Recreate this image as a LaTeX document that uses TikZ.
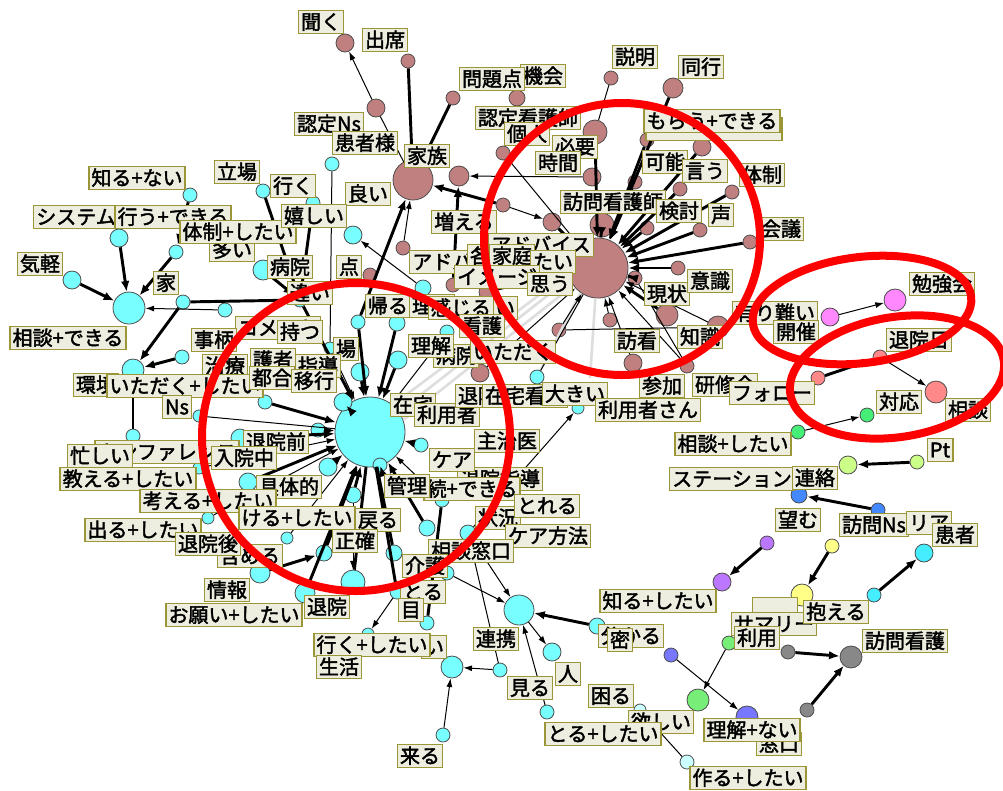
\documentclass[tikz,border=0pt]{standalone}
\usepackage{fontspec}
\newfontfamily\jp{Noto Sans CJK JP}[FakeBold=2]
\usetikzlibrary{arrows.meta}
\definecolor{cy}{RGB}{119,255,255}
\definecolor{br}{RGB}{192,128,128}
\definecolor{vi}{RGB}{255,136,255}
\definecolor{sa}{RGB}{255,136,136}
\definecolor{gn}{RGB}{68,238,119}
\definecolor{lg}{RGB}{204,255,136}
\definecolor{bl}{RGB}{68,136,255}
\definecolor{pu}{RGB}{187,119,255}
\definecolor{ye}{RGB}{255,255,136}
\definecolor{ctwo}{RGB}{68,238,255}
\definecolor{gr}{RGB}{136,136,136}
\definecolor{gg}{RGB}{119,238,119}
\definecolor{bv}{RGB}{119,119,255}
\definecolor{pc}{RGB}{204,255,255}
\definecolor{lbf}{RGB}{238,238,224}
\definecolor{lbd}{RGB}{155,150,55}
\definecolor{rd}{RGB}{255,0,0}
\newcommand\cnd[4]{\node[nd,fill=#4,minimum size=#3*1.5pt] (#1) at #2 {};}
\newcommand\lbl[4]{\node[lab] (#1) at (#2,#3) {#4};}
\begin{document}
\begin{tikzpicture}[x=0.75pt,y=-0.75pt,
 lab/.style={draw=lbd,fill=lbf,line width=1.1pt,inner xsep=2pt,inner ysep=1.1pt,font=\jp\fontsize{15pt}{16pt}\selectfont,text height=12.8pt,text depth=1.9pt},
 nd/.style={circle,draw=black!70,line width=0.6pt,inner sep=0pt},
 et/.style={line width=2.2pt,-{Latex[length=8pt,width=6.5pt]}},
 ea/.style={line width=0.75pt,-{Latex[length=6.5pt,width=4.5pt]}},
 lt/.style={line width=2.2pt},
 ln/.style={line width=0.75pt},
 gl/.style={line width=2pt,draw=black!13},
 red/.style={draw=rd,line width=6pt}]
\useasboundingbox (0,0) rectangle (1003,790);
% ---------- cyan nodes
\cnd{hub}{(370,432)}{35}{cy}
\cnd{sd}{(129,308)}{16}{cy}
\cnd{rk}{(519,610)}{15}{cy}
\cnd{kr}{(452,667)}{11}{cy}
\cnd{n1}{(119,238)}{9}{cy}
\cnd{n2}{(176,252)}{7}{cy}
\cnd{n3}{(190,195)}{7}{cy}
\cnd{n4}{(263,191)}{7}{cy}
\cnd{n5}{(313,203)}{7}{cy}
\cnd{n6}{(332,164)}{7}{cy}
\cnd{n7}{(353,235)}{9}{cy}
\cnd{n8}{(72,280)}{9}{cy}
\cnd{n9}{(183,302)}{7}{cy}
\cnd{n10}{(225,310)}{7}{cy}
\cnd{n11}{(263,270)}{10}{cy}
\cnd{n12}{(133,370)}{11}{cy}
\cnd{n13}{(182,357)}{7}{cy}
\cnd{n14}{(133,436)}{7}{cy}
\cnd{n15}{(199,416)}{6}{cy}
\cnd{n16}{(358,322)}{7}{cy}
\cnd{n17}{(397,323)}{8}{cy}
\cnd{n18}{(423,288)}{8}{cy}
\cnd{n19}{(447,332)}{7}{cy}
\cnd{n20}{(330,348)}{6}{cy}
\cnd{n21}{(360,372)}{9}{cy}
\cnd{n22}{(398,360)}{9}{cy}
\cnd{n23}{(343,402)}{9}{cy}
\cnd{n24}{(265,402)}{7}{cy}
\cnd{n25}{(318,430)}{7}{cy}
\cnd{n26}{(421,445)}{7}{cy}
\cnd{n27}{(328,467)}{9}{cy}
\cnd{n28}{(380,465)}{7}{cy}
\cnd{n29}{(353,495)}{8}{cy}
\cnd{n30}{(442,500)}{7}{cy}
\cnd{n31}{(427,528)}{8}{cy}
\cnd{n32}{(468,533)}{8}{cy}
\cnd{n33}{(324,553)}{8}{cy}
\cnd{n34}{(394,553)}{8}{cy}
\cnd{n35}{(353,582)}{12}{cy}
\cnd{n36}{(305,593)}{10}{cy}
\cnd{n37}{(260,573)}{10}{cy}
\cnd{n38}{(397,592)}{7}{cy}
\cnd{n39}{(447,573)}{7}{cy}
\cnd{n40}{(427,623)}{7}{cy}
\cnd{n41}{(287,538)}{6}{cy}
\cnd{n42}{(500,670)}{7}{cy}
\cnd{n43}{(443,735)}{7}{cy}
\cnd{n44}{(597,626)}{8}{cy}
\cnd{n45}{(552,652)}{9}{cy}
\cnd{n46}{(547,712)}{7}{cy}
\cnd{n47}{(537,377)}{7}{cy}
\cnd{n48}{(640,710)}{6}{pc}
\cnd{n49}{(687,762)}{7}{pc}
\cnd{n50}{(240,438)}{9}{cy}
\cnd{n51}{(248,482)}{9}{cy}
\cnd{n52}{(199,468)}{6}{cy}
\cnd{n53}{(208,518)}{6}{cy}
\cnd{n54}{(300,300)}{7}{cy}
\cnd{n56}{(368,634)}{6}{cy}
\cnd{n57}{(578,408)}{6}{cy}
% ---------- brown nodes
\cnd{bhub}{(598,268)}{30}{br}
\cnd{fam}{(413,180)}{20}{br}
\cnd{b1}{(345,43)}{9}{br}
\cnd{b2}{(408,61)}{7}{br}
\cnd{b3}{(376,108)}{9}{br}
\cnd{b4}{(453,98)}{7}{br}
\cnd{b5}{(517,98)}{8}{br}
\cnd{b6}{(503,153)}{7}{br}
\cnd{b7}{(459,176)}{10}{br}
\cnd{b8}{(403,248)}{7}{br}
\cnd{b9}{(611,78)}{7}{br}
\cnd{b10}{(673,88)}{10}{br}
\cnd{b11}{(595,132)}{12}{br}
\cnd{b12}{(647,140)}{7}{br}
\cnd{b13}{(702,147)}{9}{br}
\cnd{b14}{(592,177)}{9}{br}
\cnd{b15}{(635,182)}{7}{br}
\cnd{b16}{(680,189)}{7}{br}
\cnd{b17}{(732,192)}{7}{br}
\cnd{b18}{(602,225)}{12}{br}
\cnd{b19}{(647,228)}{7}{br}
\cnd{b20}{(700,230)}{7}{br}
\cnd{b21}{(750,242)}{7}{br}
\cnd{b22}{(552,222)}{9}{br}
\cnd{b23}{(503,205)}{7}{br}
\cnd{b24}{(678,268)}{7}{br}
\cnd{b25}{(635,278)}{7}{br}
\cnd{b26}{(667,315)}{11}{br}
\cnd{b27}{(718,327)}{11}{br}
\cnd{b28}{(610,320)}{7}{br}
\cnd{b29}{(559,330)}{7}{br}
\cnd{b30}{(633,363)}{9}{br}
\cnd{b31}{(687,366)}{7}{br}
\cnd{b32}{(480,373)}{9}{br}
\cnd{b33}{(370,275)}{7}{br}
\cnd{b34}{(488,292)}{9}{br}
\cnd{b36}{(453,285)}{7}{br}
% ---------- other clusters
\cnd{v1}{(830,317)}{9}{vi}
\cnd{v2}{(895,300)}{11}{vi}
\cnd{s1}{(818,378)}{7}{sa}
\cnd{s2}{(880,357)}{7}{sa}
\cnd{s3}{(936,392)}{11}{sa}
\cnd{g1}{(798,432)}{7}{gn}
\cnd{g2}{(867,415)}{7}{gn}
\cnd{lg1}{(848,465)}{9}{lg}
\cnd{lg2}{(917,462)}{7}{lg}
\cnd{bl1}{(799,495)}{8}{bl}
\cnd{bl2}{(878,510)}{7}{bl}
\cnd{p1}{(767,543)}{7}{pu}
\cnd{p2}{(722,582)}{9}{pu}
\cnd{y1}{(832,546)}{7}{ye}
\cnd{y2}{(802,595)}{11}{ye}
\cnd{c2a}{(874,595)}{7}{ctwo}
\cnd{c2b}{(924,553)}{9}{ctwo}
\cnd{gr1}{(788,652)}{7}{gr}
\cnd{gr2}{(851,657)}{11}{gr}
\cnd{gr3}{(807,710)}{7}{gr}
\cnd{gg1}{(729,643)}{7}{gg}
\cnd{gg2}{(698,700)}{11}{gg}
\cnd{bv1}{(671,655)}{7}{bv}
\cnd{bv2}{(747,717)}{11}{bv}
\coordinate (cgA) at (590,378);
% ---------- grey links
\draw[gl] (bhub.200) -- (hub.35);
\draw[gl] (bhub.215) -- (hub.20);
\draw[gl] (bhub.190) -- (hub.50);
\draw[gl] (bhub.235) -- (n47);
\draw[gl] (bhub.265) -- (cgA);
% ---------- brown edges
\draw[et] (b2) -- (fam);
\draw[lt] (b4) -- (fam);
\draw[ea] (b3) -- (b1);
\draw[ln] (b3) -- (fam);
\draw[ea] (b14) -- (b7);
\draw[et] (b23) -- (fam);
\draw[et] (b36) -- (b7);
\draw[ea] (b8) -- (fam);
\draw[et] (n16) -- (fam);
\draw[ea] (n18) -- (n7);
\draw[ln] (n6) -- (n20);
\draw[ln] (b9) -- (b11);
\draw[ln] (b5) -- (b6);
\draw[et] (b10) -- (bhub);
\foreach \b in {b11,b12,b13,b15,b16,b17,b18,b19,b20,b21,b22,b24,b25,b26}{\draw[et] (\b) -- (bhub);}
\foreach \b in {b27,b28,b29,b30,b31,b32,b34}{\draw[ea] (\b) -- (bhub);}
\draw[ea] (b23) -- (b22);
\draw[ln] (b6) -- (bhub);
\draw[ln] (b29) -- (b27);
\draw[ln] (b25) -- (b31);
\draw[ln] (n47) -- (bhub);
% ---------- cyan edges
\draw[et] (n1) -- (sd);
\draw[et] (n2) -- (sd);
\draw[et] (n3) -- (n2);
\draw[et] (n8) -- (sd);
\draw[ea] (n10) -- (sd);
\draw[et] (n9) -- (n12);
\draw[et] (n13) -- (n12);
\draw[lt] (n12) -- (n14);
\draw[lt] (n9) -- (n54);
\draw[et] (n4) -- (n54);
\draw[et] (n5) -- (n54);
\draw[et] (n11) -- (n54);
\draw[et] (n54) -- (hub);
\draw[ln] (n15) -- (hub);
\foreach \c in {n16,n17,n21,n22,n23,n24,n25,n26,n27,n28,n29,n31,n50,n51}{\draw[et] (\c) -- (hub);}
\foreach \c in {n19,n20,n52,n53,n41,n30}{\draw[ea] (\c) -- (hub);}
\draw[et] (n37) -- (n33);
\draw[et] (n33) -- (hub);
\draw[et] (n36) -- (hub);
\draw[lt] (hub) -- (n35);
\draw[ea] (n29) -- (n35);
\draw[lt] (hub) -- (n38);
\draw[lt] (n34) -- (hub);
\draw[ea] (n38) -- (n56);
\draw[lt] (n30) -- (n40);
\draw[ea] (n39) -- (rk);
\draw[ea] (n32) -- (rk);
\draw[ln] (n32) -- (n42);
\draw[ea] (n42) -- (kr);
\draw[ea] (n43) -- (kr);
\draw[et] (n44) -- (rk);
\draw[ea] (rk) -- (n45);
\draw[ea] (n46) -- (rk);
\draw[ln] (n48) -- (n49);
\draw[ea] (n32) -- (n57);
% ---------- small clusters
\draw[ea] (v1) -- (v2);
\draw[et] (s1) -- (s2);
\draw[ea] (s2) -- (s3);
\draw[ea] (g1) -- (g2);
\draw[et] (lg2) -- (lg1);
\draw[et] (bl2) -- (bl1);
\draw[et] (p1) -- (p2);
\draw[et] (y1) -- (y2);
\draw[et] (c2a) -- (c2b);
\draw[et] (gr1) -- (gr2);
\draw[et] (gr3) -- (gr2);
\draw[ea] (gg1) -- (gg2);
\draw[ea] (bv1) -- (bv2);
% ---------- labels
\lbl{l1}{321}{22}{聞く}
\lbl{l2}{385}{40}{出席}
\lbl{l4}{543}{76}{機会}
\lbl{l3}{492}{79}{問題点}
\lbl{l5}{329}{124}{認定Ns}
\lbl{l6}{365}{143}{患者様}
\lbl{l7}{427}{156}{家族}
\lbl{l8}{528}{118}{認定看護師}
\lbl{l9}{527}{134}{個人}
\lbl{l10}{575}{147}{必要}
\lbl{l11}{558}{163}{時間}
\lbl{l12}{635}{57}{説明}
\lbl{l13}{701}{67}{同行}
\node[lab] (l14) at (714,129) {\phantom{もらう+できる}};
\lbl{l15}{712}{121}{もらう+できる}
\lbl{l16}{665}{162}{可能}
\lbl{l17}{705}{171}{言う}
\lbl{l18}{762}{175}{体制}
\lbl{l19}{613}{202}{訪問看護師}
\lbl{l20}{679}{211}{検討}
\lbl{l21}{721}{215}{声}
\lbl{l22}{781}{229}{会議}
\lbl{l23}{368}{194}{良い}
\lbl{l24}{293}{186}{行く}
\lbl{l25}{237}{172}{立場}
\lbl{l26}{137}{178}{知る+ない}
\lbl{l27}{76}{217}{システム}
\lbl{l28}{173}{217}{行う+できる}
\lbl{l29}{232}{250}{多い}
\lbl{l30}{238}{232}{体制+したい}
\lbl{l31}{314}{216}{嬉しい}
\lbl{l32}{464}{222}{増える}
\lbl{l33}{40}{264}{気軽}
\lbl{l34}{166}{283}{家}
\lbl{lsd}{68}{338}{相談+できる}
\lbl{l35}{290}{267}{病院}
\lbl{l36}{349}{267}{点}
\lbl{l37}{462}{262}{アドバイス}
\lbl{l38}{480}{256}{各}
\lbl{l40}{541}{245}{アドバイス}
\lbl{l39}{512}{256}{家庭}
\lbl{l41}{553}{262}{たい}
\lbl{l42}{497}{277}{イメージ}
\lbl{l43}{550}{284}{思う}
\lbl{l44}{388}{306}{帰る}
\lbl{l46}{505}{308}{い}
\lbl{l45}{432}{306}{理由}
\lbl{l47}{461}{308}{感じる}
\lbl{l48}{482}{326}{看護}
\lbl{l51}{278}{328}{コメント}
\lbl{l52}{214}{340}{事柄}
\lbl{l53}{225}{366}{治療}
\lbl{l49}{300}{332}{持つ}
\lbl{l50}{310}{293}{違い}
\lbl{l54}{273}{360}{護者}
\lbl{l55}{346}{349}{場}
\lbl{l57}{456}{356}{病院}
\lbl{l56}{431}{346}{理解}
\lbl{l58}{513}{352}{いただく}
\lbl{l59}{96}{385}{環境}
\lbl{l60}{185}{386}{いただく+したい}
\lbl{l61}{177}{407}{Ns}
\lbl{l63}{272}{378}{都合}
\lbl{l62}{318}{366}{指導}
\lbl{l64}{314}{381}{移行}
\lbl{l65}{413}{405}{在宅}
\lbl{l66}{447}{415}{利用者}
\lbl{l67}{478}{396}{退院}
\lbl{l68}{525}{396}{在宅看護}
\lbl{l69}{575}{394}{大きい}
\lbl{l70}{648}{410}{利用者さん}
\lbl{l71}{662}{386}{参加}
\lbl{l72}{725}{385}{研修会}
\lbl{l73}{772}{393}{フォロー}
\lbl{l74}{637}{341}{訪看}
\lbl{l75}{700}{337}{知識}
\lbl{l76}{667}{294}{現状}
\lbl{l77}{710}{281}{意識}
\lbl{l78}{775}{313}{有り難い}
\lbl{l79}{796}{332}{開催}
\lbl{l80}{942}{284}{勉強会}
\lbl{l81}{919}{340}{退院日}
\lbl{l82}{899}{402}{対応}
\lbl{l83}{968}{410}{相談}
\lbl{l84}{733}{444}{相談+したい}
\lbl{l85}{940}{450}{Pt}
\lbl{l86}{732}{479}{ステーション}
\lbl{l87}{815}{478}{連絡}
\lbl{l88}{507}{441}{主治医}
\lbl{l90}{500}{479}{退院指導}
\lbl{l89}{452}{460}{ケア}
\lbl{l92}{472}{489}{続+できる}
\lbl{l91}{407}{486}{管理}
\lbl{l93}{289}{487}{具体的}
\lbl{l95}{167}{452}{カンファレンス}
\lbl{l94}{276}{442}{退院前}
\lbl{l96}{244}{458}{入院中}
\lbl{l97}{100}{456}{忙しい}
\lbl{l98}{128}{479}{教える+したい}
\lbl{l99}{208}{501}{考える+したい}
\lbl{l100}{297}{518}{ける+したい}
\lbl{l101}{378}{520}{戻る}
\lbl{l103}{498}{518}{状況}
\lbl{l102}{547}{506}{とれる}
\lbl{l104}{548}{536}{ケア方法}
\lbl{l105}{143}{530}{出る+したい}
\lbl{l107}{250}{556}{含める}
\lbl{l106}{208}{544}{退院後}
\lbl{l108}{355}{541}{正確}
\lbl{l109}{471}{551}{相談窓口}
\lbl{l110}{425}{566}{介護}
\lbl{l111}{423}{592}{とる}
\lbl{l112}{411}{610}{目}
\lbl{l113}{327}{607}{退院}
\lbl{l114}{227}{590}{情報}
\lbl{l115}{234}{615}{お願い+したい}
\lbl{l116}{434}{647}{い}
\lbl{l117}{372}{645}{行く+したい}
\lbl{l118}{339}{667}{生活}
\lbl{l119}{496}{639}{連携}
\lbl{l120}{568}{674}{人}
\lbl{l121}{530}{688}{見る}
\lbl{l122}{420}{756}{来る}
\lbl{l123}{658}{601}{知る+したい}
\lbl{l124}{631}{636}{分かる}
\lbl{l125}{620}{640}{密}
\lbl{l126}{611}{696}{困る}
\lbl{l127}{661}{722}{欲しい}
\lbl{l128}{603}{734}{とる+したい}
\lbl{l129}{748}{778}{作る+したい}
\node[lab] (l130) at (775,609) {\phantom{共有}};
\lbl{l131}{774}{624}{サマリー}
\lbl{l132}{757}{638}{利用}
\lbl{l133}{779}{744}{窓口}
\lbl{l134}{752}{730}{理解+ない}
\lbl{l135}{836}{612}{抱える}
\lbl{l136}{905}{641}{訪問看護}
\lbl{l137}{798}{520}{望む}
\lbl{l138}{874}{525}{訪問Ns}
\lbl{l139}{929}{523}{リア}
\lbl{l140}{955}{535}{患者}
% ---------- red highlight ellipses
\draw[red] (356,437) ellipse [x radius=154, y radius=154];
\draw[red] (622,239) ellipse [x radius=138, y radius=136];
\draw[red,rotate around={7:(862,310)}] (862,310) ellipse [x radius=110, y radius=53];
\draw[red,rotate around={9:(897,377)}] (897,377) ellipse [x radius=108, y radius=60];
\end{tikzpicture}
\end{document}
